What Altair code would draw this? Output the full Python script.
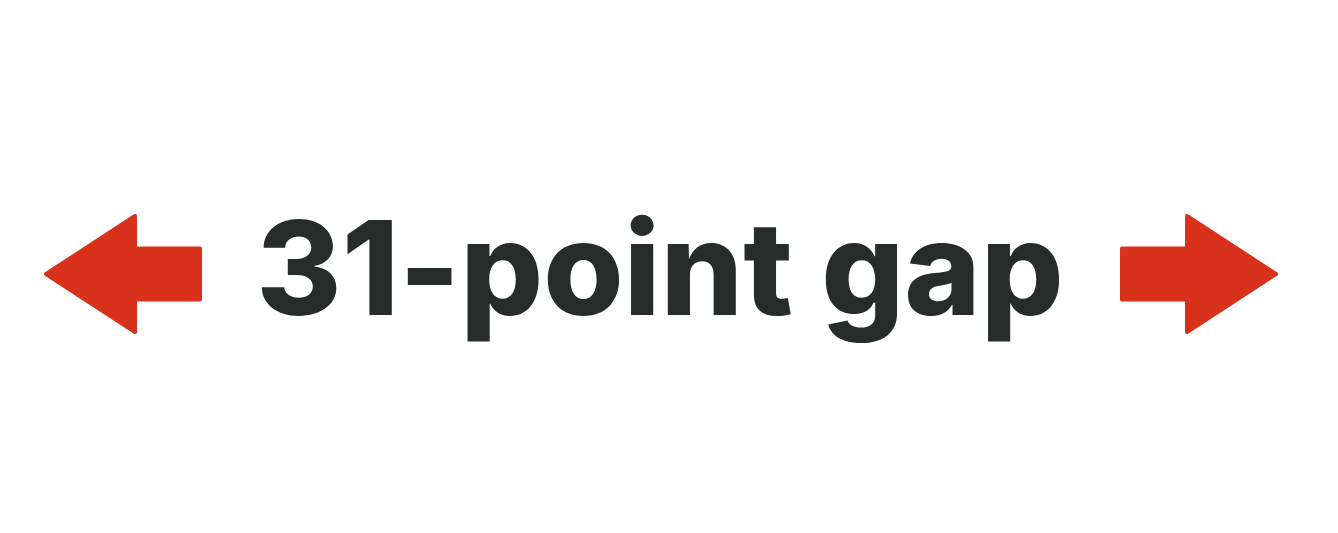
import altair as alt
import pandas as pd

# data
gap_values = [31]
label_suffix = ["-point gap"]
directions = ["left", "right"]

# arrow glyph paths in the symbol unit box
ARROW_LEFT = "M-1,0L0.156,-0.753L0.156,-0.33L1,-0.33L1,0.33L0.156,0.33L0.156,0.753Z"
ARROW_RIGHT = "M1,0L-0.156,-0.753L-0.156,-0.33L-1,-0.33L-1,0.33L-0.156,0.33L-0.156,0.753Z"

RED = "#d8321c"
INK = "#252c2a"

text_df = pd.DataFrame({"gap": gap_values, "suffix": label_suffix})
arrow_df = pd.DataFrame({"direction": directions})

arrows = alt.Chart(arrow_df).mark_point(
    filled=True, opacity=1, size=23716, color=RED,
    stroke=RED, strokeWidth=4, strokeJoin="round"
).encode(
    x=alt.X("direction:N",
            scale=alt.Scale(type="point", domain=directions, range=[115, 1191], padding=0),
            axis=None),
    y=alt.value(266),
    shape=alt.Shape("direction:N",
                    scale=alt.Scale(domain=directions, range=[ARROW_LEFT, ARROW_RIGHT]),
                    legend=None),
)

text = alt.Chart(text_df).transform_calculate(
    label="datum.gap + datum.suffix"
).mark_text(
    font="Inter", fontWeight=800, fontSize=130, color=INK,
    align="center", baseline="alphabetic"
).encode(
    text="label:N",
    x=alt.value(652),
    y=alt.value(307),
)

chart = alt.layer(arrows, text).properties(
    width=1322, height=517,
    autosize=alt.AutoSizeParams(type="none"),
    padding=0,
).configure_view(stroke=None)

chart.save("out.html", embed_options={"renderer": "svg", "actions": False})
